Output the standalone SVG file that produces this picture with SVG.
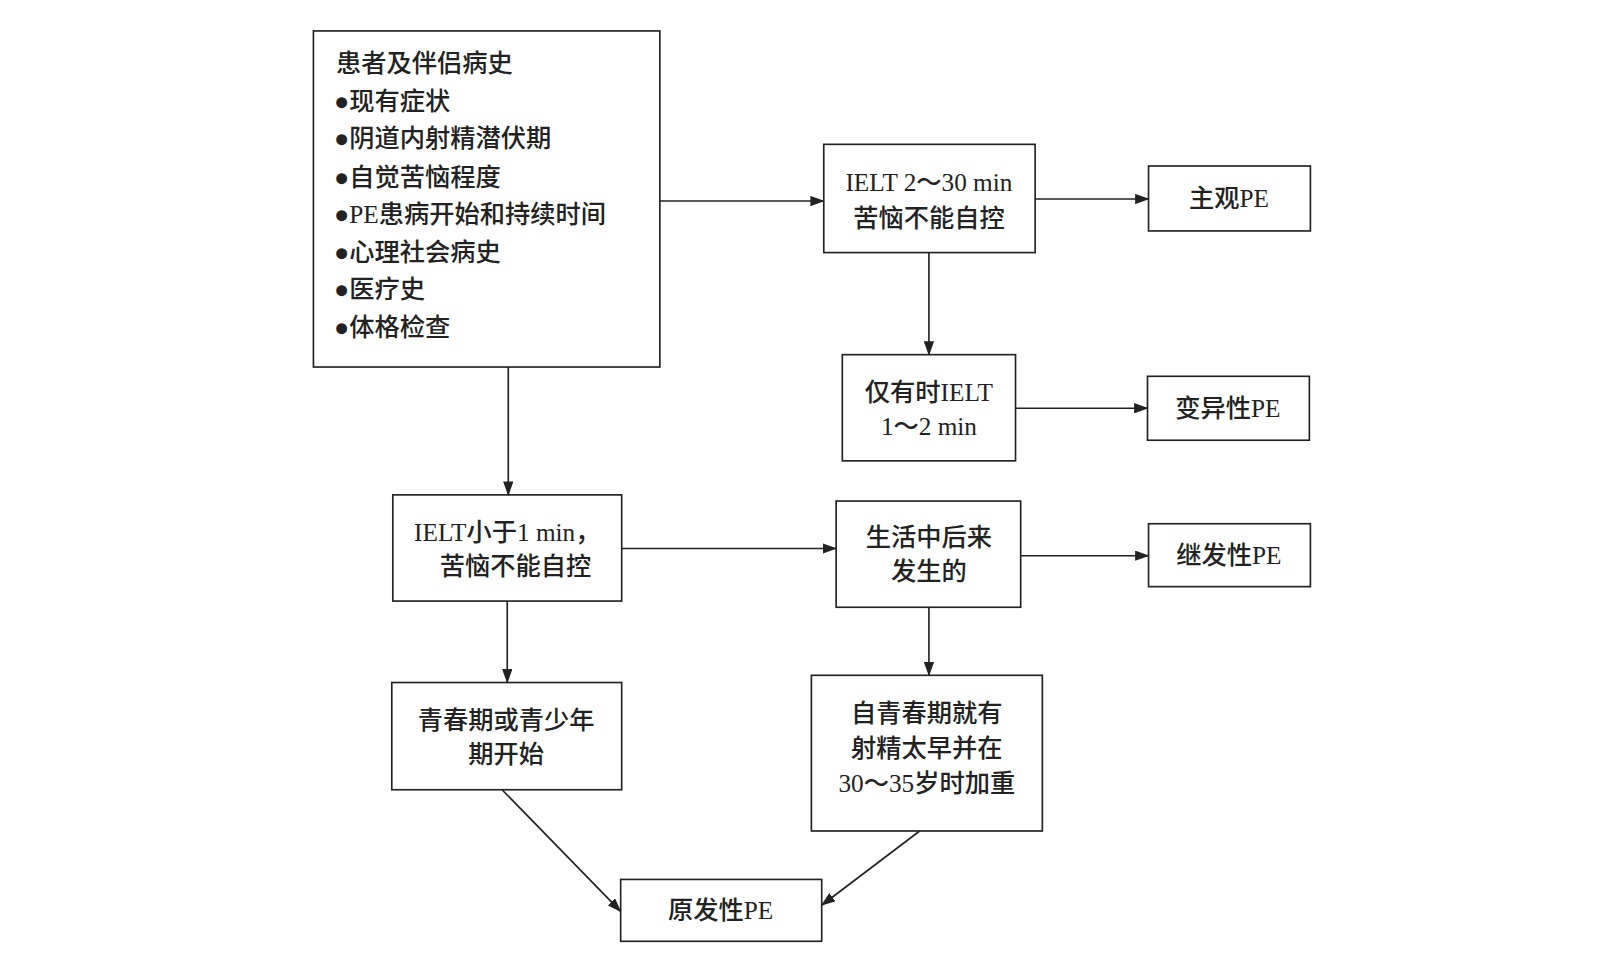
<svg xmlns="http://www.w3.org/2000/svg" width="1612" height="972" viewBox="0 0 1612 972">
<style>
rect{fill:#fff;stroke:#222;stroke-width:1.6}
text{font-family:"Liberation Serif","Noto Sans CJK SC",serif;font-size:24.5px;fill:#222;font-weight:500}
.c{text-anchor:middle}
#connectors line{stroke:#222;stroke-width:1.6;marker-end:url(#a)}
</style>
<defs><marker id="a" markerWidth="14" markerHeight="10" refX="13" refY="5" orient="auto" markerUnits="userSpaceOnUse"><path d="M0,0 L14,5 L0,10 Z" fill="#222"/></marker></defs>
<rect x="0" y="0" width="1612" height="972" style="stroke:none"/>
<g transform="scale(1.031)">
<g id="history"><rect x="304" y="30" width="336" height="326"/>
<text x="326" y="70">患者及伴侣病史</text>
<text x="324" y="107">●现有症状</text>
<text x="324" y="143">●阴道内射精潜伏期</text>
<text x="324" y="180">●自觉苦恼程度</text>
<text x="324" y="216">●PE患病开始和持续时间</text>
<text x="324" y="253">●心理社会病史</text>
<text x="324" y="289">●医疗史</text>
<text x="324" y="326">●体格检查</text></g>
<g id="n1"><rect x="799" y="140" width="205" height="105"/><text class="c" x="901" y="185">IELT 2～30 min</text><text class="c" x="901" y="220">苦恼不能自控</text></g>
<g id="n2"><rect x="1114" y="161" width="157" height="63"/><text class="c" x="1192" y="201">主观PE</text></g>
<g id="n3"><rect x="817" y="344" width="168" height="103"/><text class="c" x="901" y="389">仅有时IELT</text><text class="c" x="901" y="422">1～2 min</text></g>
<g id="n4"><rect x="1113" y="365" width="157" height="62"/><text class="c" x="1191" y="404">变异性PE</text></g>
<g id="n5"><rect x="381" y="480" width="222" height="103"/><text class="c" x="492" y="525">IELT小于1 min，</text><text class="c" x="500" y="558">苦恼不能自控</text></g>
<g id="n6"><rect x="811" y="486" width="179" height="103"/><text class="c" x="901" y="530">生活中后来</text><text class="c" x="901" y="563">发生的</text></g>
<g id="n7"><rect x="1114" y="508" width="157" height="61"/><text class="c" x="1192" y="547">继发性PE</text></g>
<g id="n8"><rect x="380" y="662" width="223" height="104"/><text class="c" x="491" y="707">青春期或青少年</text><text class="c" x="491" y="740">期开始</text></g>
<g id="n9"><rect x="787" y="655" width="224" height="151"/><text class="c" x="899" y="700">自青春期就有</text><text class="c" x="899" y="734">射精太早并在</text><text class="c" x="899" y="768">30～35岁时加重</text></g>
<g id="n10"><rect x="602" y="853" width="195" height="60"/><text class="c" x="699" y="891">原发性PE</text></g>
<g id="connectors">
<line x1="640" y1="195" x2="799" y2="195"/>
<line x1="1004" y1="193" x2="1114" y2="193"/>
<line x1="901" y1="245" x2="901" y2="344"/>
<line x1="985" y1="396" x2="1113" y2="396"/>
<line x1="493" y1="356" x2="493" y2="480"/>
<line x1="603" y1="532" x2="811" y2="532"/>
<line x1="990" y1="539" x2="1114" y2="539"/>
<line x1="492" y1="583" x2="492" y2="662"/>
<line x1="901" y1="589" x2="901" y2="655"/>
<line x1="487" y1="766" x2="602" y2="884"/>
<line x1="892" y1="806" x2="797" y2="878"/>
</g>
</g>
</svg>
